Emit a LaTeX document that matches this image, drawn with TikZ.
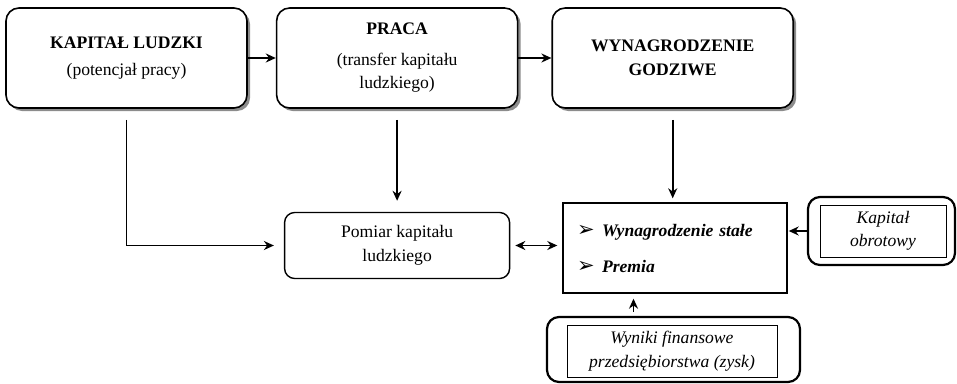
\documentclass[tikz,border=0pt]{standalone}
\usepackage{fontspec}
\setmainfont{Liberation Serif}
\newfontfamily\symfont{DejaVu Sans}
\usetikzlibrary{arrows.meta,positioning,shadows}
\tikzset{
mainbox/.style={draw,line width=1.6pt,rounded corners=13pt,minimum width=241pt,minimum height=100pt,align=center,fill=white,drop shadow={shadow xshift=3pt,shadow yshift=-3pt,fill=black!45,opacity=1}},
softbox/.style={draw,line width=1.4pt,rounded corners=10pt,minimum width=225pt,minimum height=66pt,align=center},
listbox/.style={draw,line width=1.4pt,minimum width=224pt,minimum height=90pt,inner xsep=14pt,text width=196pt,align=left},
outerbox/.style={draw,line width=2.2pt,rounded corners=12pt},
innerbox/.style={draw,line width=1pt,align=center,font=\fontsize{17.6}{23.5}\selectfont\itshape},
flow/.style={-{Stealth[length=10pt,width=9pt]},line width=1.7pt},
biflow/.style={{Stealth[length=10pt,width=9pt]}-{Stealth[length=10pt,width=9pt]},line width=1.7pt}
}
\newcommand{\punkt}{\makebox[25pt][l]{\symfont\fontsize{21}{21}\selectfont ➢}}

\begin{document}
\begin{tikzpicture}[x=1pt,y=-1pt,font=\fontsize{17.6}{23.5}\selectfont]
\useasboundingbox (0,0) rectangle (957,383);
\node[mainbox](kapital) at (126.5,58){\textbf{KAPITAŁ LUDZKI}\\[3.5pt](potencjał pracy)};
\node[mainbox,right=28pt of kapital](praca){\textbf{PRACA}\\[7pt](transfer kapitału\\ludzkiego)};
\node[mainbox,right=33pt of praca](wynagrodzenie){\textbf{WYNAGRODZENIE}\\\textbf{GODZIWE}};
\node[softbox,below=103pt of praca](pomiar){Pomiar kapitału\\ludzkiego};
\node[listbox](skladniki) at (675,248){\punkt\textbf{\textit{Wynagrodzenie stałe}}\\[12.5pt]\punkt\textbf{\textit{Premia}}};
\node[outerbox,minimum width=147pt,minimum height=68pt](obrotowy) at (881.5,231){};
\node[innerbox,minimum width=126pt,minimum height=52pt](obrotowyTekst) at (883,231){Kapitał\\obrotowy};
\node[outerbox,minimum width=253pt,minimum height=65pt](wyniki) at (673.5,349.5){};
\node[innerbox,minimum width=210pt,minimum height=52pt](wynikiTekst) at (672,351){Wyniki finansowe\\przedsiębiorstwa (zysk)};
\draw[flow](kapital)--(praca);
\draw[flow](praca)--(wynagrodzenie);
\draw[flow,shorten <=11pt,shorten >=10pt](kapital.south)|-(pomiar.west);
\draw[flow,shorten <=11pt,shorten >=11pt](praca)--(pomiar);
\draw[flow,shorten <=11pt,shorten >=4pt](wynagrodzenie.south)--(wynagrodzenie.south|-skladniki.north);
\draw[biflow,shorten <=5pt,shorten >=5pt](pomiar.east)--(pomiar.east-|skladniki.west);
\draw[flow,shorten >=1pt](obrotowy.west)--(obrotowy.west-|skladniki.east);
\draw[flow,shorten <=4pt,shorten >=5pt]([xshift=-40pt]wyniki.north)--([xshift=-40pt]wyniki.north|-skladniki.south);
\end{tikzpicture}
\end{document}
